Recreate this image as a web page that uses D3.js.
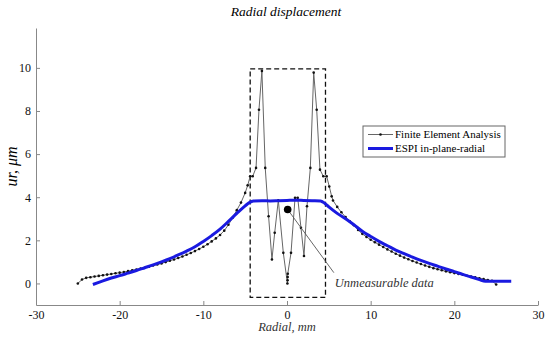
<!DOCTYPE html>
<html>
<head>
<meta charset="utf-8">
<script src="https://cdn.jsdelivr.net/npm/d3@7"></script>
<style>
  body { margin: 0; background: #fff; }
  svg { display: block; font-family: serif; }
</style>
</head>
<body>
<div id="chart"></div>
<script>
// Finite Element Analysis (radial position mm, displacement um)
const feaX = [-25, -24.5, -24, -23.5, -23, -22.5, -22, -21.5, -21, -20.5, -20, -19.5, -19, -18.5, -18, -17.5,
  -17, -16.5, -16, -15.5, -15, -14.5, -14, -13.5, -13, -12.5, -12, -11.5, -11, -10.5, -10, -9.5, -9, -8.5,
  -8, -7.5, -7, -6.5, -6, -5.5, -5, -4.7, -4.4, -4.1, -3.7, -3.35, -3.0, -2.6, -2.2, -1.8, -1.47, -1.04,
  -0.44, 0.05, 0.07, 0.08, 0.09, 0.48, 0.96, 1.28, 1.67, 2.03, 2.39, 2.79, 3.19, 3.55, 3.94, 4.34, 4.74,
  5.05, 5.34, 5.5, 6, 6.5, 7, 7.5, 8, 8.5, 9, 9.5, 10, 10.5, 11, 11.5, 12, 12.5, 13, 13.5, 14, 14.5, 15,
  15.5, 16, 16.5, 17, 17.5, 18, 18.5, 19, 19.5, 20, 20.5, 21, 21.5, 22, 22.5, 23, 23.5, 24, 24.5, 25];
const feaY = [0.0, 0.18, 0.26, 0.29, 0.32, 0.35, 0.38, 0.41, 0.44, 0.47, 0.5, 0.53, 0.57, 0.61, 0.65, 0.69,
  0.73, 0.78, 0.83, 0.88, 0.93, 0.99, 1.05, 1.11, 1.18, 1.25, 1.33, 1.41, 1.5, 1.6, 1.7, 1.82, 1.95, 2.09,
  2.25, 2.45, 2.72, 3.05, 3.4, 3.75, 4.2, 4.55, 4.97, 4.97, 5.36, 8.06, 9.86, 5.36, 3.12, 1.11, 2.35, 3.86,
  1.42, 0.0, 0.15, 0.3, 0.45, 1.42, 3.97, 3.97, 2.58, 1.27, 3.58, 5.36, 9.78, 8.06, 5.28, 4.97, 4.97,
  4.5, 4.04, 3.85, 3.55, 3.3, 3.08, 2.88, 2.7, 2.48, 2.3, 2.16, 2.03, 1.91, 1.8, 1.69, 1.58, 1.48, 1.38,
  1.29, 1.2, 1.12, 1.04, 0.97, 0.9, 0.83, 0.77, 0.71, 0.66, 0.61, 0.56, 0.52, 0.48, 0.44, 0.4, 0.36, 0.32,
  0.28, 0.24, 0.2, 0.16, 0.12, -0.05];

// ESPI in-plane-radial measurement
const espiX = [-23.2, -22.5, -22, -21, -20, -19, -18, -17, -16, -15, -14, -13, -12, -11, -10, -9, -8, -7,
  -6, -5, -4.5, -4, -3, -2, -1, 0, 1, 2, 3, 4, 4.5, 5, 6, 7, 8, 9, 10, 11, 12, 13, 14, 15, 16, 17, 18, 19,
  20, 21, 22, 23, 23.7, 25, 26.8];
const espiY = [-0.05, 0.05, 0.12, 0.25, 0.36, 0.48, 0.6, 0.73, 0.86, 1.0, 1.15, 1.32, 1.5, 1.7, 1.95, 2.22,
  2.52, 2.88, 3.25, 3.6, 3.75, 3.82, 3.84, 3.83, 3.84, 3.85, 3.86, 3.85, 3.84, 3.83, 3.72, 3.55, 3.25, 3.0,
  2.72, 2.42, 2.18, 1.95, 1.75, 1.55, 1.38, 1.22, 1.07, 0.93, 0.8, 0.67, 0.55, 0.42, 0.3, 0.18, 0.1, 0.1, 0.1];

const xTicks = [-30, -20, -10, 0, 10, 20, 30];
const yTicks = [0, 2, 4, 6, 8, 10];
const seriesNames = ["Finite Element Analysis", "ESPI in-plane-radial"];

// dashed box around the region that could not be measured, and the marker
const boxX = [-4.4, 4.6];
const boxY = [-0.65, 9.95];
const markX = 0.08, markY = 3.43;
const noteX = 5.6, noteY = 0.5;
const noteText = "Unmeasurable data";

const width = 550, height = 338;
const margin = { top: 28, right: 12, bottom: 33, left: 36 };

const svg = d3.select("#chart").append("svg")
    .attr("width", width)
    .attr("height", height);

const x = d3.scaleLinear().domain([-30, 30]).range([margin.left, width - margin.right]);
const y = d3.scaleLinear().domain([-1, 11.85]).range([height - margin.bottom, margin.top]);

// axes (ticks point inward like matlab)
const xAxis = svg.append("g")
    .attr("transform", `translate(0,${height - margin.bottom})`)
    .call(d3.axisBottom(x).tickValues(xTicks).tickFormat(d => String(d))
        .tickSizeInner(-4).tickSizeOuter(0).tickPadding(5));
const yAxis = svg.append("g")
    .attr("transform", `translate(${margin.left},0)`)
    .call(d3.axisLeft(y).tickValues(yTicks).tickFormat(d => String(d))
        .tickSizeInner(-4).tickSizeOuter(0).tickPadding(5));

[xAxis, yAxis].forEach(g => {
    g.attr("font-family", "serif").attr("font-size", 12);
    g.select(".domain").attr("stroke", "#888");
    g.selectAll(".tick line").attr("stroke", "#888");
    g.selectAll(".tick text").attr("fill", "#111");
});

// titles
svg.append("text")
    .attr("x", 286).attr("y", 16)
    .attr("text-anchor", "middle")
    .style("font-style", "italic").style("font-size", "13.5px")
    .text("Radial displacement");

svg.append("text")
    .attr("x", x(0)).attr("y", height - 7)
    .attr("text-anchor", "middle")
    .style("font-style", "italic").style("font-size", "12.5px")
    .attr("fill", "#333")
    .text("Radial, mm");

svg.append("text")
    .attr("transform", `translate(17,${(margin.top + height - margin.bottom) / 2}) rotate(-90)`)
    .attr("text-anchor", "middle")
    .style("font-style", "italic").style("font-size", "16px")
    .text("ur, \u03BCm");

// dashed box
svg.append("rect")
    .attr("x", x(boxX[0]))
    .attr("y", y(boxY[1]))
    .attr("width", x(boxX[1]) - x(boxX[0]))
    .attr("height", y(boxY[0]) - y(boxY[1]))
    .attr("fill", "none")
    .attr("stroke", "#111")
    .attr("stroke-width", 1.3)
    .attr("stroke-dasharray", "5,3");

const fea = feaX.map((v, i) => [v, feaY[i]]);
const espi = espiX.map((v, i) => [v, espiY[i]]);
const line = d3.line().x(d => x(d[0])).y(d => y(d[1]));

// FEA line + dots
svg.append("path")
    .datum(fea)
    .attr("fill", "none")
    .attr("stroke", "#666")
    .attr("stroke-width", 1)
    .attr("d", line);

svg.append("g")
    .selectAll("circle")
    .data(fea)
    .enter().append("circle")
    .attr("cx", d => x(d[0]))
    .attr("cy", d => y(d[1]))
    .attr("r", 1.3)
    .attr("fill", "#111");

// ESPI line
svg.append("path")
    .datum(espi)
    .attr("fill", "none")
    .attr("stroke", "#1a1ae0")
    .attr("stroke-width", 3)
    .attr("stroke-linejoin", "round")
    .attr("d", line.curve(d3.curveMonotoneX));

// annotation
svg.append("line")
    .attr("x1", x(markX)).attr("y1", y(markY))
    .attr("x2", x(noteX)).attr("y2", y(noteY))
    .attr("stroke", "#555")
    .attr("stroke-width", 0.9);

svg.append("circle")
    .attr("cx", x(markX)).attr("cy", y(markY))
    .attr("r", 3.8)
    .attr("fill", "#000");

svg.append("text")
    .attr("x", x(noteX) + 1).attr("y", y(noteY) + 14)
    .style("font-style", "italic").style("font-size", "12.5px")
    .attr("fill", "#333")
    .text(noteText);

// legend
const legend = svg.append("g").attr("transform", "translate(363,126)");
legend.append("rect")
    .attr("width", 142).attr("height", 31)
    .attr("fill", "#fff")
    .attr("stroke", "#666");

seriesNames.forEach((name, i) => {
    const ly = 8.5 + i * 14;
    legend.append("line")
        .attr("x1", 5).attr("x2", 30)
        .attr("y1", ly).attr("y2", ly)
        .attr("stroke", i === 0 ? "#666" : "#1a1ae0")
        .attr("stroke-width", i === 0 ? 1 : 3);
    if (i === 0) {
        legend.append("circle").attr("cx", 17.5).attr("cy", ly).attr("r", 1.3).attr("fill", "#111");
    }
    legend.append("text")
        .attr("x", 32).attr("y", ly)
        .attr("dy", "0.35em")
        .style("font-size", "11px")
        .text(name);
});
</script>
</body>
</html>
